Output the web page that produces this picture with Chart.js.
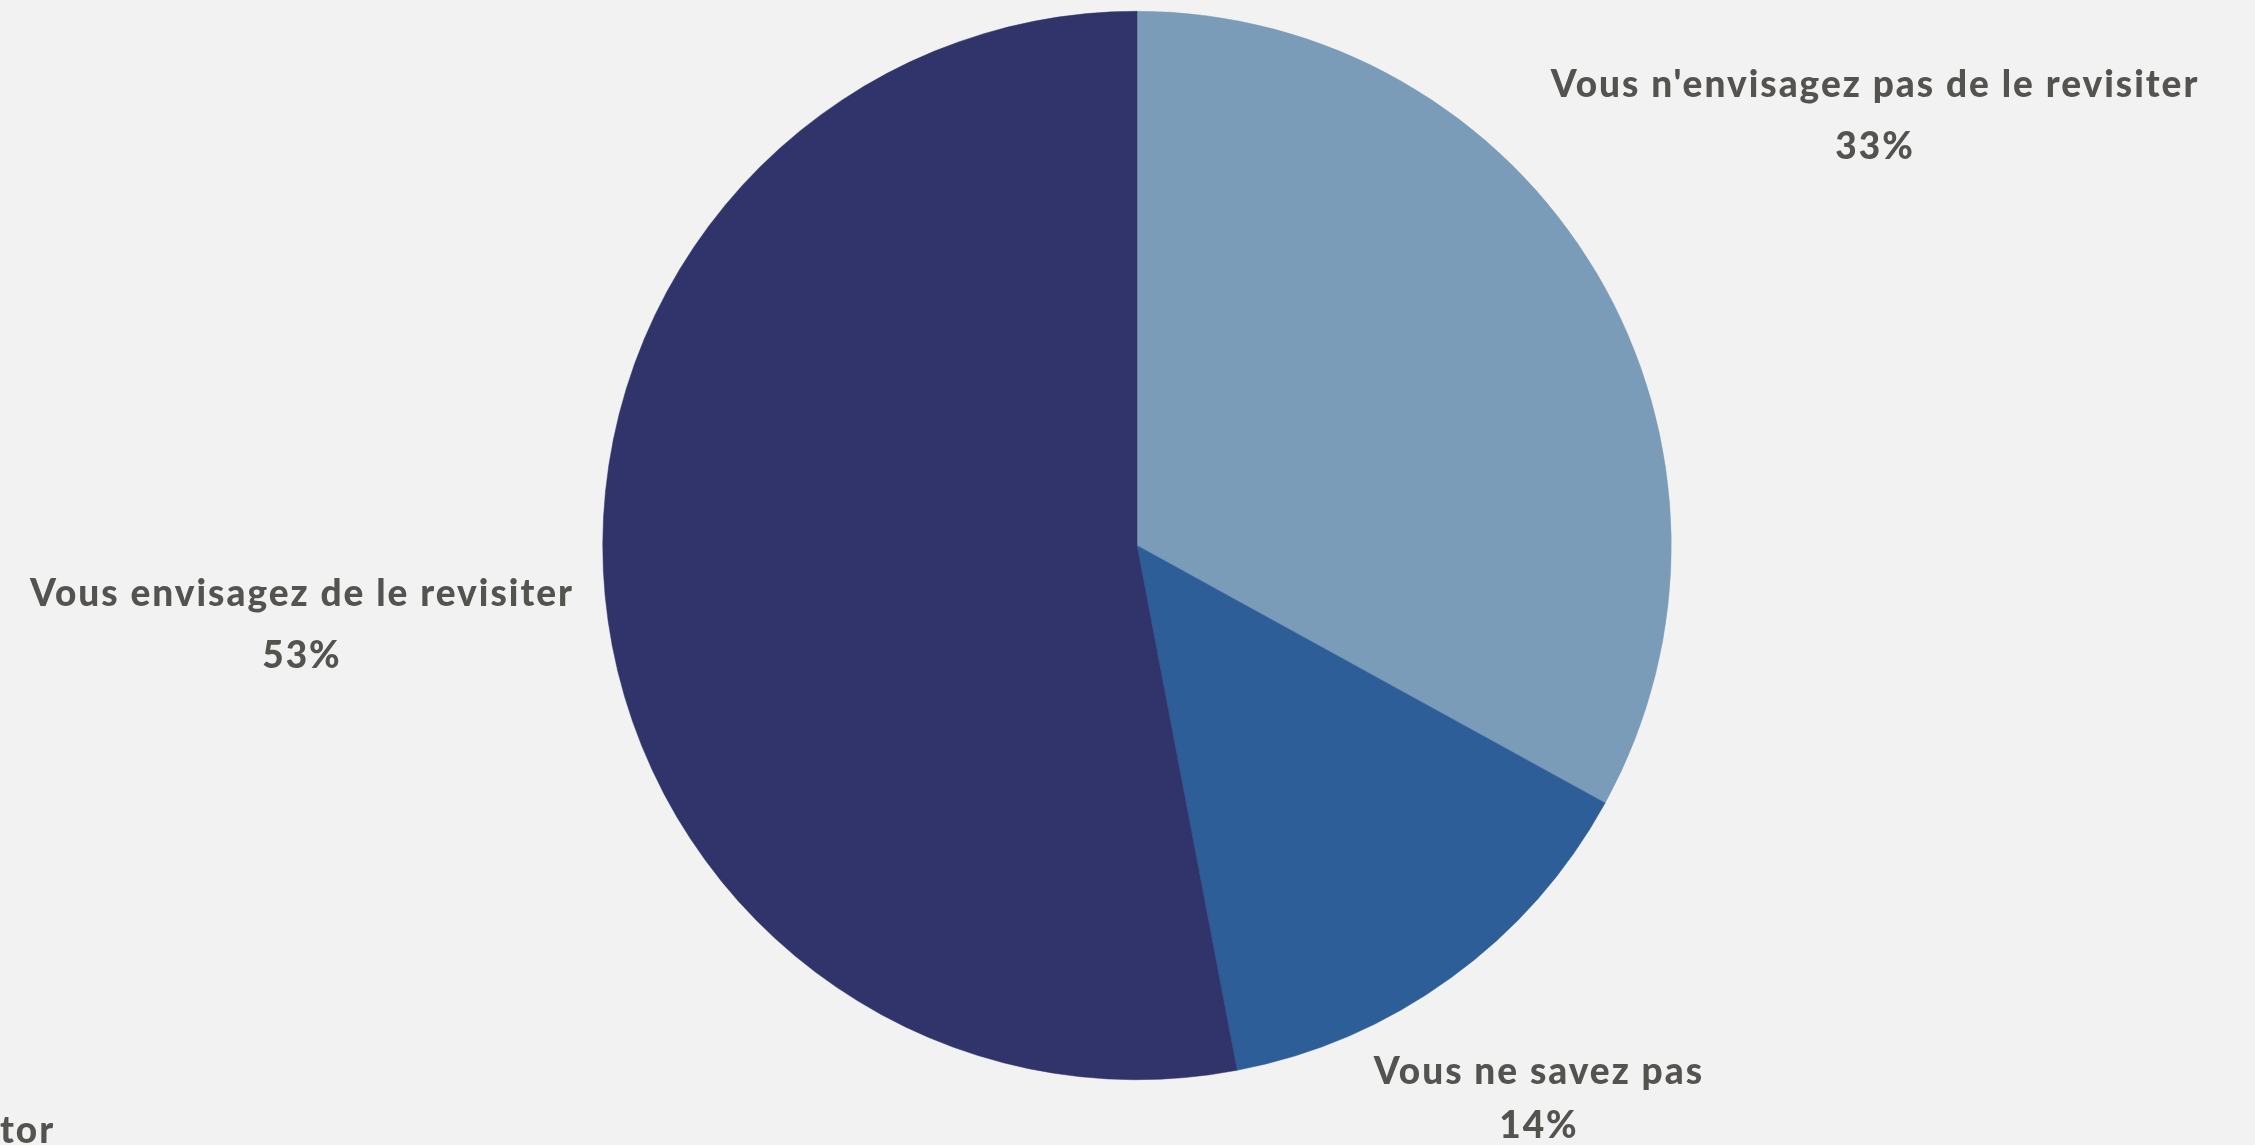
<!DOCTYPE html>
<html>
<head>
<meta charset="utf-8">
<script src="https://cdn.jsdelivr.net/npm/chart.js@4/dist/chart.umd.min.js"></script>
<style>
  html, body { margin: 0; padding: 0; background: #f2f2f2; overflow: hidden; }
  #wrap { width: 2255px; height: 1145px; }
</style>
</head>
<body>
<div id="wrap"><canvas id="c" width="2255" height="1145"></canvas></div>
<script>
const categories = ["Vous n'envisagez pas de le revisiter", "Vous ne savez pas", "Vous envisagez de le revisiter"];
const values = [33, 14, 53];
const percentLabels = ["33%", "14%", "53%"];
const colors = ["#7b9cb9", "#2e5e98", "#30346a"];
const labelDistance = [1.605, 1.28, 1.57];
const labelShiftY = [7, 0, 1];
const lineGap = [31, 27, 31];
const footerText = "tor";

const textColor = "#54534f";
const fontFamily = "Lato, 'Open Sans', sans-serif";

const labelPlugin = {
  id: 'outerLabels',
  afterDraw(chart) {
    const ctx = chart.ctx;
    const meta = chart.getDatasetMeta(0);
    ctx.save();
    ctx.fillStyle = textColor;
    ctx.textAlign = 'center';
    ctx.textBaseline = 'middle';
    if ('letterSpacing' in ctx) ctx.letterSpacing = '2px';
    meta.data.forEach((arc, i) => {
      const p = arc.getProps(['x', 'y', 'startAngle', 'endAngle', 'outerRadius'], true);
      const mid = (p.startAngle + p.endAngle) / 2;
      const d = p.outerRadius * labelDistance[i];
      const cx = p.x + Math.cos(mid) * d;
      const cy = p.y + Math.sin(mid) * d + labelShiftY[i];
      ctx.font = "900 37px " + fontFamily;
      ctx.fillText(categories[i], cx, cy - lineGap[i]);
      ctx.fillText(percentLabels[i], cx, cy + lineGap[i]);
    });
    ctx.textAlign = 'left';
    ctx.textBaseline = 'alphabetic';
    ctx.font = "900 37px " + fontFamily;
    ctx.fillText(footerText, 0, 1143);
    ctx.restore();
  }
};

new Chart(document.getElementById('c'), {
  type: 'pie',
  data: {
    labels: categories,
    datasets: [{
      data: values,
      backgroundColor: colors,
      borderColor: colors,
      borderWidth: 0.5
    }]
  },
  options: {
    responsive: false,
    maintainAspectRatio: false,
    animation: false,
    layout: { padding: { left: 19, top: 11, bottom: 65, right: 0 } },
    plugins: {
      legend: { display: false },
      tooltip: { enabled: false }
    }
  },
  plugins: [labelPlugin]
});
</script>
</body>
</html>
